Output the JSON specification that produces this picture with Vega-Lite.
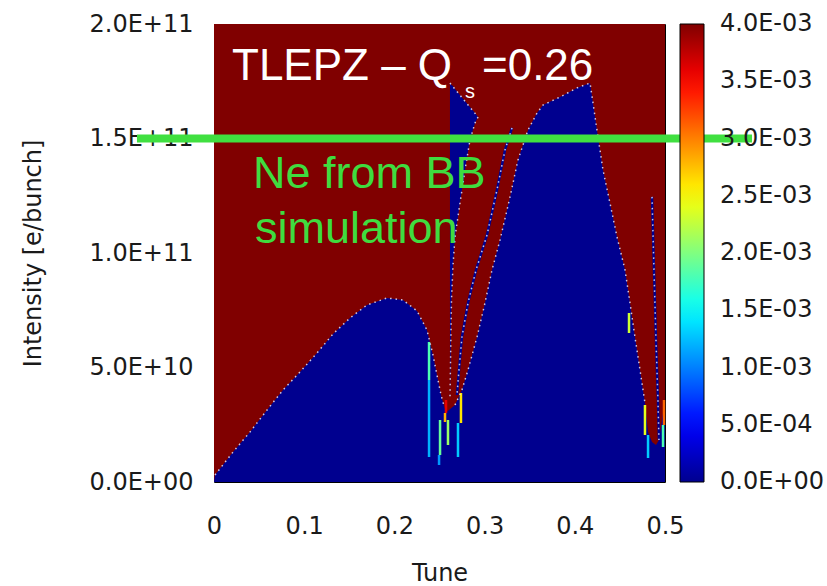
{
  "$schema": "https://vega.github.io/schema/vega-lite/v6.json",
  "width": 451,
  "height": 458,
  "autosize": {"type": "none"},
  "padding": {"left": 214, "top": 24, "right": 162, "bottom": 104},
  "background": "#ffffff",
  "config": {"view": {"stroke": "#000000", "strokeWidth": 1}},
  "datasets": {
    "bg": [{"tune": 0, "tune2": 0.5, "intensity": 0, "intensity2": 2e11, "value": 0.004}],
    "bands": [
      {"region": "E", "tune": 0, "intensity": 0, "intensity2": 0, "value": 0},
      {"region": "E", "tune": 0.0011, "intensity": 3.06e9, "intensity2": 0, "value": 0},
      {"region": "E", "tune": 0.0211, "intensity": 1.31e10, "intensity2": 0, "value": 0},
      {"region": "E", "tune": 0.0399, "intensity": 2.184e10, "intensity2": 0, "value": 0},
      {"region": "E", "tune": 0.0588, "intensity": 3.144e10, "intensity2": 0, "value": 0},
      {"region": "E", "tune": 0.0765, "intensity": 4.018e10, "intensity2": 0, "value": 0},
      {"region": "E", "tune": 0.0953, "intensity": 4.804e10, "intensity2": 0, "value": 0},
      {"region": "E", "tune": 0.1142, "intensity": 5.633e10, "intensity2": 0, "value": 0},
      {"region": "E", "tune": 0.1319, "intensity": 6.463e10, "intensity2": 0, "value": 0},
      {"region": "E", "tune": 0.1508, "intensity": 7.162e10, "intensity2": 0, "value": 0},
      {"region": "E", "tune": 0.1696, "intensity": 7.73e10, "intensity2": 0, "value": 0},
      {"region": "E", "tune": 0.1918, "intensity": 8.035e10, "intensity2": 0, "value": 0},
      {"region": "E", "tune": 0.2095, "intensity": 7.948e10, "intensity2": 0, "value": 0},
      {"region": "E", "tune": 0.2251, "intensity": 7.468e10, "intensity2": 0, "value": 0},
      {"region": "E", "tune": 0.2361, "intensity": 6.638e10, "intensity2": 0, "value": 0},
      {"region": "E", "tune": 0.2428, "intensity": 5.546e10, "intensity2": 0, "value": 0},
      {"region": "E", "tune": 0.3481, "intensity": 1.537e11, "intensity2": 0, "value": 0},
      {"region": "E", "tune": 0.3581, "intensity": 1.611e11, "intensity2": 0, "value": 0},
      {"region": "E", "tune": 0.3647, "intensity": 1.646e11, "intensity2": 0, "value": 0},
      {"region": "E", "tune": 0.3836, "intensity": 1.681e11, "intensity2": 0, "value": 0},
      {"region": "E", "tune": 0.4024, "intensity": 1.721e11, "intensity2": 0, "value": 0},
      {"region": "E", "tune": 0.4169, "intensity": 1.742e11, "intensity2": 0, "value": 0},
      {"region": "E", "tune": 0.4202, "intensity": 1.655e11, "intensity2": 0, "value": 0},
      {"region": "E", "tune": 0.4257, "intensity": 1.507e11, "intensity2": 0, "value": 0},
      {"region": "E", "tune": 0.4313, "intensity": 1.362e11, "intensity2": 0, "value": 0},
      {"region": "E", "tune": 0.439, "intensity": 1.218e11, "intensity2": 0, "value": 0},
      {"region": "E", "tune": 0.4468, "intensity": 1.07e11, "intensity2": 0, "value": 0},
      {"region": "E", "tune": 0.4557, "intensity": 9.258e10, "intensity2": 0, "value": 0},
      {"region": "E", "tune": 0.4612, "intensity": 7.817e10, "intensity2": 0, "value": 0},
      {"region": "E", "tune": 0.4667, "intensity": 6.332e10, "intensity2": 0, "value": 0},
      {"region": "E", "tune": 0.4723, "intensity": 4.891e10, "intensity2": 0, "value": 0},
      {"region": "E", "tune": 0.4778, "intensity": 3.45e10, "intensity2": 0, "value": 0},
      {"region": "E", "tune": 0.4812, "intensity": 2.183e10, "intensity2": 0, "value": 0},
      {"region": "E", "tune": 0.4856, "intensity": 1.747e10, "intensity2": 0, "value": 0},
      {"region": "E", "tune": 0.49, "intensity": 1.616e10, "intensity2": 0, "value": 0},
      {"region": "E", "tune": 0.4933, "intensity": 1.834e10, "intensity2": 0, "value": 0},
      {"region": "E", "tune": 0.4967, "intensity": 2.708e10, "intensity2": 0, "value": 0},
      {"region": "E", "tune": 0.5, "intensity": 3.581e10, "intensity2": 0, "value": 0},
      {"region": "W", "tune": 0.2428, "intensity": 2e11, "intensity2": 5.546e10, "value": 0.004},
      {"region": "W", "tune": 0.2472, "intensity": 2e11, "intensity2": 4.673e10, "value": 0.004},
      {"region": "W", "tune": 0.2517, "intensity": 2e11, "intensity2": 3.799e10, "value": 0.004},
      {"region": "W", "tune": 0.255, "intensity": 2e11, "intensity2": 3.319e10, "value": 0.004},
      {"region": "W", "tune": 0.2572, "intensity": 2e11, "intensity2": 3.057e10, "value": 0.004},
      {"region": "W", "tune": 0.2605, "intensity": 2e11, "intensity2": 3.144e10, "value": 0.004},
      {"region": "W", "tune": 0.2672, "intensity": 2e11, "intensity2": 3.363e10, "value": 0.004},
      {"region": "W", "tune": 0.2749, "intensity": 2e11, "intensity2": 4.018e10, "value": 0.004},
      {"region": "W", "tune": 0.2816, "intensity": 2e11, "intensity2": 4.891e10, "value": 0.004},
      {"region": "W", "tune": 0.2916, "intensity": 2e11, "intensity2": 6.332e10, "value": 0.004},
      {"region": "W", "tune": 0.3004, "intensity": 2e11, "intensity2": 7.817e10, "value": 0.004},
      {"region": "W", "tune": 0.3082, "intensity": 2e11, "intensity2": 9.258e10, "value": 0.004},
      {"region": "W", "tune": 0.3171, "intensity": 2e11, "intensity2": 1.057e11, "value": 0.004},
      {"region": "W", "tune": 0.3282, "intensity": 2e11, "intensity2": 1.245e11, "value": 0.004},
      {"region": "W", "tune": 0.337, "intensity": 2e11, "intensity2": 1.406e11, "value": 0.004},
      {"region": "W", "tune": 0.3481, "intensity": 2e11, "intensity2": 1.537e11, "value": 0.004},
      {"region": "B", "tune": 0.2616, "intensity": 1.742e11, "intensity2": 3.581e10, "value": 0},
      {"region": "B", "tune": 0.2633, "intensity": 1.734e11, "intensity2": 7.948e10, "value": 0},
      {"region": "B", "tune": 0.265, "intensity": 1.729e11, "intensity2": 9.476e10, "value": 0},
      {"region": "B", "tune": 0.2672, "intensity": 1.716e11, "intensity2": 1.07e11, "value": 0},
      {"region": "B", "tune": 0.2727, "intensity": 1.69e11, "intensity2": 1.218e11, "value": 0},
      {"region": "B", "tune": 0.2783, "intensity": 1.664e11, "intensity2": 1.362e11, "value": 0},
      {"region": "B", "tune": 0.2838, "intensity": 1.638e11, "intensity2": 1.494e11, "value": 0},
      {"region": "B", "tune": 0.2894, "intensity": 1.611e11, "intensity2": 1.568e11, "value": 0},
      {"region": "B", "tune": 0.2927, "intensity": 1.594e11, "intensity2": 1.594e11, "value": 0}
    ],
    "edges": [
      {"kind": "edge", "edge": "hump", "i": 1, "tune": 0.0011, "intensity": 3.06e9},
      {"kind": "edge", "edge": "hump", "i": 2, "tune": 0.0211, "intensity": 1.31e10},
      {"kind": "edge", "edge": "hump", "i": 3, "tune": 0.0399, "intensity": 2.184e10},
      {"kind": "edge", "edge": "hump", "i": 4, "tune": 0.0588, "intensity": 3.144e10},
      {"kind": "edge", "edge": "hump", "i": 5, "tune": 0.0765, "intensity": 4.018e10},
      {"kind": "edge", "edge": "hump", "i": 6, "tune": 0.0953, "intensity": 4.804e10},
      {"kind": "edge", "edge": "hump", "i": 7, "tune": 0.1142, "intensity": 5.633e10},
      {"kind": "edge", "edge": "hump", "i": 8, "tune": 0.1319, "intensity": 6.463e10},
      {"kind": "edge", "edge": "hump", "i": 9, "tune": 0.1508, "intensity": 7.162e10},
      {"kind": "edge", "edge": "hump", "i": 10, "tune": 0.1696, "intensity": 7.73e10},
      {"kind": "edge", "edge": "hump", "i": 11, "tune": 0.1918, "intensity": 8.035e10},
      {"kind": "edge", "edge": "hump", "i": 12, "tune": 0.2095, "intensity": 7.948e10},
      {"kind": "edge", "edge": "hump", "i": 13, "tune": 0.2251, "intensity": 7.468e10},
      {"kind": "edge", "edge": "hump", "i": 14, "tune": 0.2361, "intensity": 6.638e10},
      {"kind": "edge", "edge": "hump", "i": 15, "tune": 0.2428, "intensity": 5.546e10},
      {"kind": "edge", "edge": "hump", "i": 16, "tune": 0.2472, "intensity": 4.673e10},
      {"kind": "edge", "edge": "hump", "i": 17, "tune": 0.2517, "intensity": 3.799e10},
      {"kind": "edge", "edge": "hump", "i": 18, "tune": 0.255, "intensity": 3.319e10},
      {"kind": "edge", "edge": "C", "i": 1, "tune": 0.2672, "intensity": 3.363e10},
      {"kind": "edge", "edge": "C", "i": 2, "tune": 0.2749, "intensity": 4.018e10},
      {"kind": "edge", "edge": "C", "i": 3, "tune": 0.2816, "intensity": 4.891e10},
      {"kind": "edge", "edge": "C", "i": 4, "tune": 0.2916, "intensity": 6.332e10},
      {"kind": "edge", "edge": "C", "i": 5, "tune": 0.3004, "intensity": 7.817e10},
      {"kind": "edge", "edge": "C", "i": 6, "tune": 0.3082, "intensity": 9.258e10},
      {"kind": "edge", "edge": "C", "i": 7, "tune": 0.3171, "intensity": 1.057e11},
      {"kind": "edge", "edge": "C", "i": 8, "tune": 0.3282, "intensity": 1.245e11},
      {"kind": "edge", "edge": "C", "i": 9, "tune": 0.337, "intensity": 1.406e11},
      {"kind": "edge", "edge": "C", "i": 10, "tune": 0.3481, "intensity": 1.537e11},
      {"kind": "edge", "edge": "C", "i": 11, "tune": 0.3581, "intensity": 1.611e11},
      {"kind": "edge", "edge": "C", "i": 12, "tune": 0.3647, "intensity": 1.646e11},
      {"kind": "edge", "edge": "C", "i": 13, "tune": 0.3836, "intensity": 1.681e11},
      {"kind": "edge", "edge": "C", "i": 14, "tune": 0.4024, "intensity": 1.721e11},
      {"kind": "edge", "edge": "C", "i": 15, "tune": 0.4169, "intensity": 1.742e11},
      {"kind": "edge", "edge": "C", "i": 16, "tune": 0.4202, "intensity": 1.655e11},
      {"kind": "edge", "edge": "C", "i": 17, "tune": 0.4257, "intensity": 1.507e11},
      {"kind": "edge", "edge": "C", "i": 18, "tune": 0.4313, "intensity": 1.362e11},
      {"kind": "edge", "edge": "C", "i": 19, "tune": 0.439, "intensity": 1.218e11},
      {"kind": "edge", "edge": "C", "i": 20, "tune": 0.4468, "intensity": 1.07e11},
      {"kind": "edge", "edge": "C", "i": 21, "tune": 0.4557, "intensity": 9.258e10},
      {"kind": "edge", "edge": "C", "i": 22, "tune": 0.4612, "intensity": 7.817e10},
      {"kind": "edge", "edge": "C", "i": 23, "tune": 0.4667, "intensity": 6.332e10},
      {"kind": "edge", "edge": "C", "i": 24, "tune": 0.4723, "intensity": 4.891e10},
      {"kind": "edge", "edge": "C", "i": 25, "tune": 0.4778, "intensity": 3.45e10},
      {"kind": "edge", "edge": "strip", "i": 1, "tune": 0.2616, "intensity": 1.742e11},
      {"kind": "edge", "edge": "strip", "i": 2, "tune": 0.2927, "intensity": 1.594e11},
      {"kind": "edge", "edge": "strip", "i": 3, "tune": 0.2894, "intensity": 1.568e11},
      {"kind": "edge", "edge": "strip", "i": 4, "tune": 0.2838, "intensity": 1.494e11},
      {"kind": "edge", "edge": "strip", "i": 5, "tune": 0.2783, "intensity": 1.362e11},
      {"kind": "edge", "edge": "strip", "i": 6, "tune": 0.2727, "intensity": 1.218e11},
      {"kind": "edge", "edge": "strip", "i": 7, "tune": 0.2672, "intensity": 1.07e11},
      {"kind": "edge", "edge": "strip", "i": 8, "tune": 0.265, "intensity": 9.476e10},
      {"kind": "edge", "edge": "strip", "i": 9, "tune": 0.2633, "intensity": 7.948e10},
      {"kind": "edge", "edge": "strip", "i": 10, "tune": 0.2616, "intensity": 3.581e10},
      {"kind": "thread", "edge": "L2", "i": 1, "tune": 0.3304, "intensity": 1.546e11},
      {"kind": "thread", "edge": "L2", "i": 2, "tune": 0.3226, "intensity": 1.45e11},
      {"kind": "thread", "edge": "L2", "i": 3, "tune": 0.3137, "intensity": 1.275e11},
      {"kind": "thread", "edge": "L2", "i": 4, "tune": 0.3027, "intensity": 1.079e11},
      {"kind": "thread", "edge": "L2", "i": 5, "tune": 0.2905, "intensity": 9.258e10},
      {"kind": "thread", "edge": "L2", "i": 6, "tune": 0.2816, "intensity": 7.817e10},
      {"kind": "thread", "edge": "L2", "i": 7, "tune": 0.2749, "intensity": 6.332e10},
      {"kind": "thread", "edge": "L2", "i": 8, "tune": 0.2716, "intensity": 4.891e10},
      {"kind": "thread", "edge": "L2", "i": 9, "tune": 0.2694, "intensity": 3.799e10},
      {"kind": "thread", "edge": "LR", "i": 1, "tune": 0.4856, "intensity": 1.245e11},
      {"kind": "thread", "edge": "LR", "i": 2, "tune": 0.4878, "intensity": 9.258e10},
      {"kind": "thread", "edge": "LR", "i": 3, "tune": 0.49, "intensity": 6.201e10},
      {"kind": "thread", "edge": "LR", "i": 4, "tune": 0.4922, "intensity": 3.581e10},
      {"kind": "thread", "edge": "LR", "i": 5, "tune": 0.4933, "intensity": 1.834e10}
    ],
    "streaks": [
      {"tune": 0.2384, "intensity": 6.114e10, "intensity2": 4.454e10, "value": 0.0018},
      {"tune": 0.2384, "intensity": 4.454e10, "intensity2": 1.092e10, "value": 0.0012},
      {"tune": 0.2572, "intensity": 3.581e10, "intensity2": 3.013e10, "value": 0.0036},
      {"tune": 0.2561, "intensity": 3.013e10, "intensity2": 2.62e10, "value": 0.0028},
      {"tune": 0.2506, "intensity": 2.708e10, "intensity2": 1.179e10, "value": 0.0019},
      {"tune": 0.2495, "intensity": 1.179e10, "intensity2": 7.42e9, "value": 0.0011},
      {"tune": 0.2594, "intensity": 2.708e10, "intensity2": 1.616e10, "value": 0.0021},
      {"tune": 0.2738, "intensity": 3.887e10, "intensity2": 2.577e10, "value": 0.0026},
      {"tune": 0.2705, "intensity": 2.577e10, "intensity2": 1.092e10, "value": 0.0013},
      {"tune": 0.4778, "intensity": 3.363e10, "intensity2": 2.052e10, "value": 0.0024},
      {"tune": 0.4812, "intensity": 2.052e10, "intensity2": 1.048e10, "value": 0.0013},
      {"tune": 0.4989, "intensity": 3.581e10, "intensity2": 2.489e10, "value": 0.0031},
      {"tune": 0.4978, "intensity": 2.489e10, "intensity2": 1.528e10, "value": 0.0018},
      {"tune": 0.4601, "intensity": 7.38e10, "intensity2": 6.507e10, "value": 0.0023}
    ],
    "ref": [{"tune": -0.0854, "tune2": 0.5965, "intensity": 1.5e11}],
    "notes": [
      {"kind": "title", "label": "TLEPZ – Q", "tune": 0.01996, "intensity": 1.7555e11},
      {"kind": "sub", "label": "s", "tune": 0.2783, "intensity": 1.6769e11},
      {"kind": "title", "label": "=0.26", "tune": 0.2971, "intensity": 1.7555e11},
      {"kind": "green", "label": "Ne from BB", "tune": 0.04324, "intensity": 1.2839e11},
      {"kind": "green", "label": "simulation", "tune": 0.04545, "intensity": 1.0437e11}
    ]
  },
  "layer": [
    {
      "data": {"name": "bg"},
      "mark": {"type": "rect"},
      "encoding": {
        "x": {
          "field": "tune", "type": "quantitative",
          "scale": {"domain": [0, 0.5], "nice": false, "zero": false, "padding": 0},
          "axis": {
            "title": "Tune", "values": [0, 0.1, 0.2, 0.3, 0.4, 0.5], "format": "~g",
            "labelFont": "DejaVu Sans", "labelFontSize": 24, "labelColor": "#1a1a1a",
            "labelFlush": false, "labelOverlap": false, "labelPadding": 32,
            "ticks": false, "domain": false, "grid": false,
            "titleFont": "DejaVu Sans", "titleFontSize": 24, "titleFontWeight": "normal", "titleColor": "#1a1a1a",
            "titleX": 225.5, "titleY": 98.5, "titleBaseline": "alphabetic", "titleAlign": "center"
          }
        },
        "x2": {"field": "tune2"},
        "y": {
          "field": "intensity", "type": "quantitative",
          "scale": {"domain": [0, 2e11], "nice": false, "zero": false, "padding": 0},
          "axis": {
            "title": "Intensity [e/bunch]", "values": [0, 5e10, 1e11, 1.5e11, 2e11],
            "labelExpr": "split(format(datum.value,'.1e'),'e')[0] + 'E' + slice(split(format(datum.value,'.1e'),'e')[1],0,1) + (length(split(format(datum.value,'.1e'),'e')[1]) < 3 ? '0' : '') + slice(split(format(datum.value,'.1e'),'e')[1],1)",
            "labelFont": "DejaVu Sans", "labelFontSize": 24, "labelColor": "#1a1a1a",
            "labelOverlap": false, "labelPadding": 21,
            "ticks": false, "domain": false, "grid": false,
            "titleFont": "DejaVu Sans", "titleFontSize": 24, "titleFontWeight": "normal", "titleColor": "#1a1a1a",
            "titleX": -181, "titleY": 229, "titleAngle": -90, "titleAlign": "center", "titleBaseline": "middle"
          }
        },
        "y2": {"field": "intensity2"},
        "color": {
          "field": "value", "type": "quantitative",
          "scale": {
            "type": "linear",
            "domain": [0, 0.0005, 0.0015, 0.0025, 0.0035, 0.004],
            "range": ["#00008f", "#0000ff", "#00ffff", "#ffff00", "#ff0000", "#800000"],
            "interpolate": "rgb"
          },
          "legend": {
            "type": "gradient",
            "orient": "none", "legendX": 466, "legendY": 0, "direction": "vertical",
            "title": null, "padding": 0,
            "gradientLength": 458, "gradientThickness": 24,
            "gradientStrokeColor": "#000000", "gradientStrokeWidth": 1,
            "values": [0, 0.0005, 0.001, 0.0015, 0.002, 0.0025, 0.003, 0.0035, 0.004],
            "labelExpr": "split(format(datum.value,'.1e'),'e')[0] + 'E' + slice(split(format(datum.value,'.1e'),'e')[1],0,1) + (length(split(format(datum.value,'.1e'),'e')[1]) < 3 ? '0' : '') + slice(split(format(datum.value,'.1e'),'e')[1],1)",
            "labelFont": "DejaVu Sans", "labelFontSize": 24, "labelColor": "#1a1a1a",
            "labelOffset": 16, "labelBaseline": "middle", "labelOverlap": false, "labelLimit": 200,
            "encode": {"labels": {"update": {"baseline": {"value": "middle"}}}}
          }
        }
      }
    },
    {
      "data": {"name": "bands"},
      "transform": [{"filter": "datum.region == 'E'"}],
      "mark": {"type": "area"},
      "encoding": {
        "x": {"field": "tune", "type": "quantitative"},
        "y": {"field": "intensity", "type": "quantitative"},
        "y2": {"field": "intensity2"},
        "color": {"field": "value", "type": "quantitative"}
      }
    },
    {
      "data": {"name": "bands"},
      "transform": [{"filter": "datum.region == 'W'"}],
      "mark": {"type": "area"},
      "encoding": {
        "x": {"field": "tune", "type": "quantitative"},
        "y": {"field": "intensity", "type": "quantitative"},
        "y2": {"field": "intensity2"},
        "color": {"field": "value", "type": "quantitative"}
      }
    },
    {
      "data": {"name": "bands"},
      "transform": [{"filter": "datum.region == 'B'"}],
      "mark": {"type": "area"},
      "encoding": {
        "x": {"field": "tune", "type": "quantitative"},
        "y": {"field": "intensity", "type": "quantitative"},
        "y2": {"field": "intensity2"},
        "color": {"field": "value", "type": "quantitative"}
      }
    },
    {
      "data": {"name": "edges"},
      "transform": [{"filter": "datum.kind == 'thread'"}],
      "mark": {"type": "line", "color": "#00008f", "strokeWidth": 2.5},
      "encoding": {
        "x": {"field": "tune", "type": "quantitative"},
        "y": {"field": "intensity", "type": "quantitative"},
        "detail": {"field": "edge"},
        "order": {"field": "i"}
      }
    },
    {
      "data": {"name": "streaks"},
      "mark": {"type": "bar", "width": 2.5},
      "encoding": {
        "x": {"field": "tune", "type": "quantitative"},
        "y": {"field": "intensity", "type": "quantitative"},
        "y2": {"field": "intensity2"},
        "color": {"field": "value", "type": "quantitative"}
      }
    },
    {
      "data": {"name": "edges"},
      "mark": {"type": "line", "color": "#e8e8ff", "strokeWidth": 1.5, "strokeDash": [1.5, 4], "opacity": 0.85},
      "encoding": {
        "x": {"field": "tune", "type": "quantitative"},
        "y": {"field": "intensity", "type": "quantitative"},
        "detail": {"field": "edge"},
        "order": {"field": "i"}
      }
    },
    {
      "data": {"name": "ref"},
      "mark": {"type": "rule", "color": "#40e040", "strokeWidth": 8},
      "encoding": {
        "x": {"field": "tune", "type": "quantitative"},
        "x2": {"field": "tune2"},
        "y": {"field": "intensity", "type": "quantitative"}
      }
    },
    {
      "data": {"name": "notes"},
      "transform": [{"filter": "datum.kind == 'title'"}],
      "mark": {"type": "text", "align": "left", "baseline": "alphabetic", "font": "Liberation Sans", "fontSize": 44, "color": "#ffffff"},
      "encoding": {
        "x": {"field": "tune", "type": "quantitative"},
        "y": {"field": "intensity", "type": "quantitative"},
        "text": {"field": "label"}
      }
    },
    {
      "data": {"name": "notes"},
      "transform": [{"filter": "datum.kind == 'sub'"}],
      "mark": {"type": "text", "align": "left", "baseline": "alphabetic", "font": "Liberation Sans", "fontSize": 20, "color": "#ffffff"},
      "encoding": {
        "x": {"field": "tune", "type": "quantitative"},
        "y": {"field": "intensity", "type": "quantitative"},
        "text": {"field": "label"}
      }
    },
    {
      "data": {"name": "notes"},
      "transform": [{"filter": "datum.kind == 'green'"}],
      "mark": {"type": "text", "align": "left", "baseline": "alphabetic", "font": "Liberation Sans", "fontSize": 45, "color": "#3fdc3f"},
      "encoding": {
        "x": {"field": "tune", "type": "quantitative"},
        "y": {"field": "intensity", "type": "quantitative"},
        "text": {"field": "label"}
      }
    }
  ]
}
